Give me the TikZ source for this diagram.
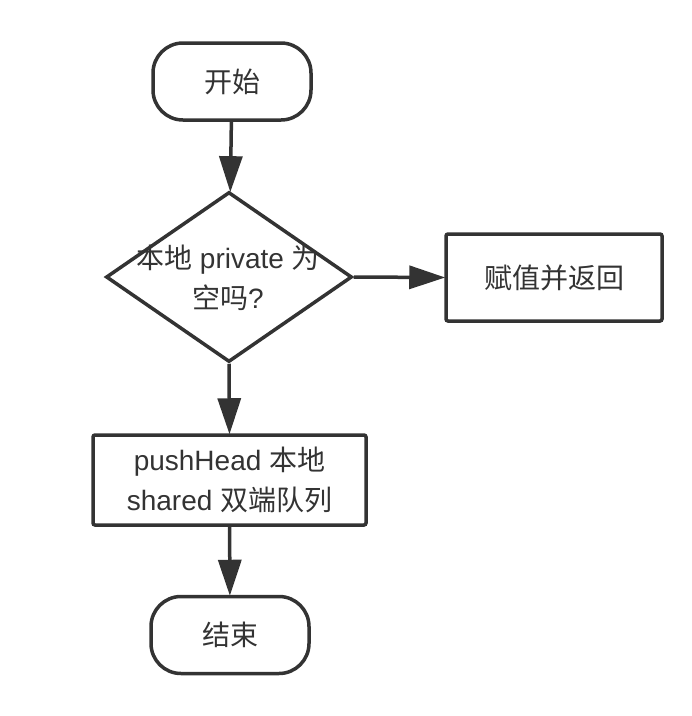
\documentclass[tikz,border=0pt]{standalone}
\usepackage{fontspec}
\setmainfont{Liberation Sans}
\newfontfamily\cjkf{Noto Sans CJK SC}
\newcommand{\zh}[1]{{\cjkf #1}}
\usetikzlibrary{shapes.geometric,arrows.meta}
\definecolor{ink}{HTML}{333333}
\begin{document}
\begin{tikzpicture}[x=1pt,y=-1pt,
  every node/.style={font=\fontsize{28}{40}\selectfont, text=ink, align=center, inner sep=0pt},
  term/.style={draw=ink, line width=3.5pt, rounded corners=30pt, minimum width=158pt, minimum height=77pt},
  proc/.style={draw=ink, line width=3.5pt, rounded corners=2pt},
  decide/.style={draw=ink, line width=3.5pt, diamond, aspect=1.43, minimum width=246pt, minimum height=170pt},
  flow/.style={draw=ink, line width=3.5pt, -{Triangle[length=36pt,width=23pt]}, shorten >=-1pt}]
\useasboundingbox (0,0) rectangle (692,716);
\node[term] (start) at (232,81.5) {\zh{开始}};
\node[decide] (dec) at (229,277) {};
\node at (228,278) {\zh{本地} private \zh{为}\\\zh{空吗}?};
\node[proc, minimum width=216pt, minimum height=87pt] (ret) at (554,277.5) {\zh{赋值并返回}};
\node[proc, minimum width=273pt, minimum height=90pt] (push) at (229.5,480) {pushHead \zh{本地}\\shared \zh{双端队列}};
\node[term] (end) at (230,635) {\zh{结束}};
\draw[flow] (start) -- (dec);
\draw[flow] (dec.east) -- (ret.west);
\draw[flow] (dec.south) -- (push.north);
\draw[flow] (push) -- (end);
\end{tikzpicture}
\end{document}
